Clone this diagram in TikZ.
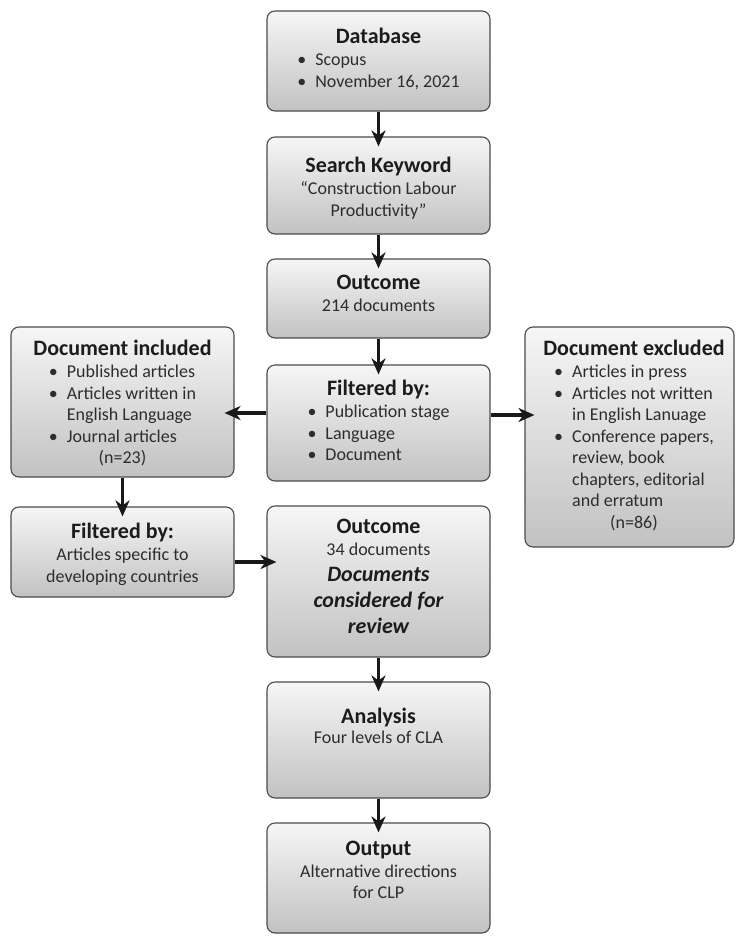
\documentclass[tikz,border=0pt]{standalone}
\usepackage{fontspec}
\setmainfont{Carlito}
\usetikzlibrary{arrows.meta}
\definecolor{bord}{RGB}{75,75,75}
\definecolor{topc}{RGB}{246,246,246}
\definecolor{botc}{RGB}{194,194,194}
\definecolor{ink}{RGB}{28,28,28}
\definecolor{body}{RGB}{45,45,45}
\newcommand\ttl[1]{{\fontsize{22}{26}\selectfont\bfseries\color{ink}\rule{0pt}{17pt}#1}}
\newcommand\bul{\makebox[18pt][l]{\textbullet}}
\newcommand\bit[1]{{\fontsize{22}{26}\selectfont\bfseries\itshape\color{ink}#1}}
\begin{document}
\begin{tikzpicture}[x=1pt,y=-1pt,
 box/.style={draw=bord,line width=1.1pt,rounded corners=8pt,top color=topc,bottom color=botc,inner sep=0pt},
 txt/.style={anchor=north,inner sep=0pt,align=center,text=body,font=\fontsize{18}{21.5}\selectfont},
 arr/.style={line width=3.2pt,draw=black!90,-{Stealth[length=16pt,width=14pt,inset=5pt]},shorten >=-10pt}]
\useasboundingbox (0,0) rectangle (736,937);
% boxes
\node[box,minimum width=223pt,minimum height=100pt] (db) at (378.5,61) {};
\node[box,minimum width=223pt,minimum height=97pt] (sk) at (378.5,185.5) {};
\node[box,minimum width=223pt,minimum height=79pt] (o1) at (378.5,298.5) {};
\node[box,minimum width=223pt,minimum height=116pt] (fc) at (378.5,423) {};
\node[box,minimum width=223pt,minimum height=151pt] (o2) at (378.5,581.5) {};
\node[box,minimum width=223pt,minimum height=116pt] (an) at (378.5,740) {};
\node[box,minimum width=223pt,minimum height=110pt] (out) at (378.5,878) {};
\node[box,minimum width=223pt,minimum height=150pt] (di) at (122.5,402) {};
\node[box,minimum width=223pt,minimum height=90pt] (fl) at (122.5,552) {};
\node[box,minimum width=209pt,minimum height=220pt] (de) at (629.5,437) {};
% arrows
\draw[arr] (db.south) -- (sk.north);
\draw[arr] (sk.south) -- (o1.north);
\draw[arr] (o1.south) -- (fc.north);
\draw[arr] ([yshift=10pt]fc.west) -- ([yshift=10pt]fc.west -| di.east);
\draw[arr] ([yshift=8pt]fc.east) -- ([yshift=8pt]fc.east -| de.west);
\draw[arr] (di.south) -- (fl.north);
\draw[arr] ([yshift=-10pt]fl.east) -- ([yshift=-10pt]fl.east -| o2.west);
\draw[arr] (o2.south) -- (an.north);
\draw[arr] (an.south) -- (out.north);
% texts
\node[txt] (dbt) at (378.5,26) {\ttl{Database}\\[1pt]\begin{tabular}[t]{@{}l@{}l@{}}\bul&Scopus\\\bul&November 16, 2021\end{tabular}};
\node[txt] (skt) at (378.5,155) {\ttl{Search Keyword}\\[1pt]“Construction Labour\\Productivity”};
\node[txt] (o1t) at (378.5,272) {\ttl{Outcome}\\[1pt]214 documents};
\node[txt] (fct) at (378.5,378) {\ttl{Filtered by:}\\[1pt]\begin{tabular}[t]{@{}l@{}l@{}}\bul&Publication stage\\\bul&Language\\\bul&Document\end{tabular}};
\node[txt] (dit) at (122.5,338) {\ttl{Document included}\\[1pt]\begin{tabular}[t]{@{}l@{}l@{}}\bul&Published articles\\\bul&Articles written in\\&English Language\\\bul&Journal articles\\\multicolumn{2}{c}{(n=23)}\end{tabular}};
\node[txt] (det) at (634,338) {\ttl{Document excluded}\\[1pt]\begin{tabular}[t]{@{}l@{}l@{}}\bul&Articles in press\\\bul&Articles not written\\&in English Lanuage\\\bul&Conference papers,\\&review, book\\&chapters, editorial\\&and erratum\\\multicolumn{2}{c}{(n=86)}\end{tabular}};
\node[txt] (flt) at (122.5,521) {\ttl{Filtered by:}\\[1pt]Articles specific to\\developing countries};
\node[txt] (o2t) at (378.5,516) {\ttl{Outcome}\\[1pt]34 documents\\[4.5pt]\bit{Documents}\\[4.5pt]\bit{considered for}\\[4.5pt]\bit{review}};
\node[txt] (ant) at (378.5,706) {\ttl{Analysis}\\[-1pt]Four levels of CLA};
\node[txt] (outt) at (378.5,838) {\ttl{Output}\\[1pt]Alternative directions\\[-1pt]for CLP};
\end{tikzpicture}
\end{document}
